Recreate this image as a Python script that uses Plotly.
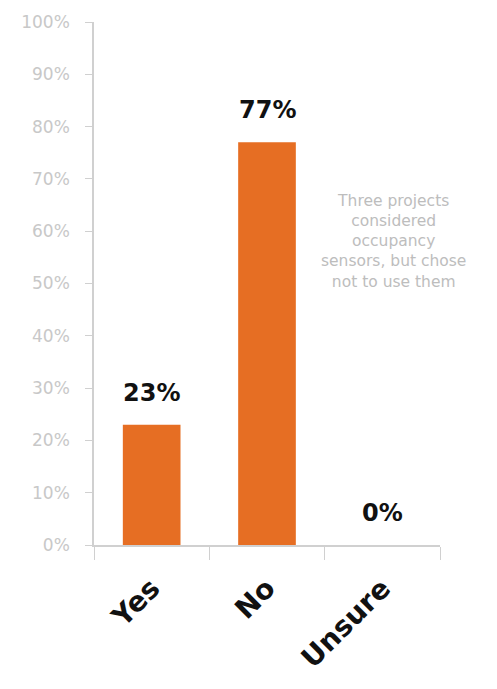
import plotly.graph_objects as go

categories = ["Yes", "No", "Unsure"]
values = [0.23, 0.77, 0.0]
labels = ["23%", "77%", "0%"]
y_ticks = [0, 0.1, 0.2, 0.3, 0.4, 0.5, 0.6, 0.7, 0.8, 0.9, 1.0]
note = "Three projects<br>considered<br>occupancy<br>sensors, but chose<br>not to use them"

fig = go.Figure(go.Bar(
    x=categories, y=values,
    marker=dict(color="#E66E23", line=dict(width=0)),
    cliponaxis=False,
))

for c, v, t in zip(categories, values, labels):
    fig.add_annotation(x=c, y=v, text=t, showarrow=False,
                       xanchor="center", yanchor="bottom", yshift=16,
                       font=dict(family="DejaVu Sans", size=24, color="#111111", weight="bold"))

fig.add_annotation(x=0.867, xref="paper", y=0.58, yref="y", text=note,
                   showarrow=False, align="center", xanchor="center", yanchor="middle",
                   font=dict(family="DejaVu Sans", size=15.5, color="#bdbdbd"))

fig.update_layout(
    width=497, height=689,
    margin=dict(l=94, r=57, t=18, b=144),
    paper_bgcolor="white", plot_bgcolor="white",
    bargap=0.5, showlegend=False,
)
fig.update_yaxes(range=[0, 1], tickvals=y_ticks, tickformat=".0%",
                 showgrid=False, zeroline=False,
                 showline=True, linecolor="#d0d0d0", linewidth=1.5,
                 ticks="outside", ticklen=7, tickcolor="#d0d0d0",
                 ticklabelstandoff=12,
                 tickfont=dict(family="DejaVu Sans", size=17, color="#c8c8c8"))
fig.update_xaxes(showline=True, linecolor="#d0d0d0", linewidth=1.5,
                 ticks="outside", ticklen=13, tickcolor="#d0d0d0",
                 tickson="boundaries", tickangle=-45, ticklabelstandoff=14,
                 tickfont=dict(family="DejaVu Sans", size=28, color="#111111", weight="bold"))

fig.write_html("out.html")
